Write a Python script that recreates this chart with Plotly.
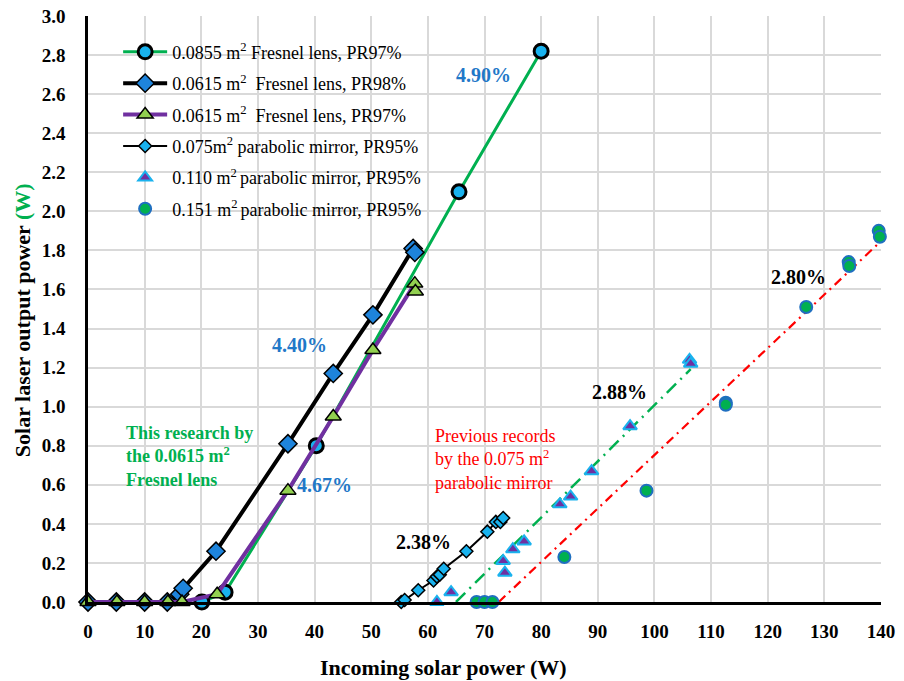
import numpy as np
import plotly.graph_objects as go

# ---------------- data ----------------
# 0.0855 m2 Fresnel lens, PR97%
fr0855_x = [20.1, 24.2, 40.3, 65.5, 80.0]
fr0855_y = [0.00, 0.05, 0.80, 2.10, 2.82]

# 0.0615 m2 Fresnel lens, PR98%
fr98_x = [0.0, 5.0, 10.0, 14.0, 16.2, 16.8, 22.6, 35.3, 43.3, 50.3, 57.4, 57.7]
fr98_y = [0.00, 0.00, 0.00, 0.00, 0.04, 0.07, 0.26, 0.81, 1.17, 1.47, 1.81, 1.79]

# 0.0615 m2 Fresnel lens, PR97%
fr97_x = [0.0, 5.1, 10.0, 14.1, 16.6, 22.8, 35.3, 43.3, 50.3, 57.7, 57.8]
fr97_y = [0.00, 0.00, 0.00, 0.00, 0.00, 0.04, 0.57, 0.95, 1.29, 1.63, 1.59]

# 0.075 m2 parabolic mirror, PR95%
pm075_x = [55.3, 55.9, 58.3, 61.0, 61.6, 62.1, 62.8, 66.8, 70.5, 72.0, 72.8, 73.3]
pm075_y = [0.00, 0.01, 0.06, 0.11, 0.13, 0.14, 0.17, 0.26, 0.36, 0.41, 0.41, 0.43]

# 0.110 m2 parabolic mirror, PR95%
pm110_x = [61.6, 64.1, 73.3, 73.6, 75.0, 77.0, 83.3, 85.2, 88.9, 95.7, 106.2, 106.4]
pm110_y = [0.00, 0.05, 0.21, 0.15, 0.27, 0.31, 0.50, 0.54, 0.67, 0.90, 1.24, 1.22]

# 0.151 m2 parabolic mirror, PR95%
pm151_x = [68.6, 70.0, 71.4, 84.1, 98.6, 112.6, 112.6, 126.8, 134.3, 134.4, 139.6, 139.8]
pm151_y = [0.00, 0.00, 0.00, 0.23, 0.57, 1.02, 1.01, 1.51, 1.74, 1.72, 1.90, 1.87]

x_ticks = list(range(0, 141, 10))
y_ticks = [round(0.2 * i, 1) for i in range(16)]

legend_names = [
    "0.0855 m<sup>2</sup> Fresnel lens, PR97%",
    "0.0615 m<sup>2</sup>&nbsp; Fresnel lens, PR98%",
    "0.0615 m<sup>2</sup>&nbsp; Fresnel lens, PR97%",
    "0.075m<sup>2</sup> parabolic mirror, PR95%",
    "0.110 m<sup>2 </sup>parabolic mirror, PR95%",
    "0.151 m<sup>2 </sup>parabolic mirror, PR95%",
]

SERIF = "Liberation Serif, Times New Roman, serif"
LIGHTBLUE = "#19b2ee"
BLUE = "#1e84dc"

fig = go.Figure()


def trend(xs, ys):
    m, b = np.polyfit(np.array(xs), np.array(ys), 1)
    x0 = max(min(xs), -b / m)
    x1 = max(xs)
    return [x0, x1], [m * x0 + b, m * x1 + b]


# trend lines (behind markers)
tx, ty = trend(pm110_x, pm110_y)
fig.add_trace(go.Scatter(x=tx, y=ty, mode="lines", showlegend=False, hoverinfo="skip",
                         line=dict(color="#00b050", width=2.5, dash="13px,6px,2px,6px")))
tx, ty = trend(pm151_x, pm151_y)
fig.add_trace(go.Scatter(x=tx, y=ty, mode="lines", showlegend=False, hoverinfo="skip",
                         line=dict(color="#ff0000", width=2.2, dash="9px,5px,2px,5px")))

fig.add_trace(go.Scatter(
    x=fr0855_x, y=fr0855_y, mode="lines+markers", name=legend_names[0], legendgroup="a",
    line=dict(color="#00b050", width=3),
    marker=dict(symbol="circle", size=14, color=LIGHTBLUE, line=dict(color="black", width=3)),
    cliponaxis=False))
fig.add_trace(go.Scatter(
    x=fr98_x, y=fr98_y, mode="lines+markers", name=legend_names[1], legendgroup="b",
    line=dict(color="black", width=4),
    marker=dict(symbol="diamond", size=14, color=BLUE, line=dict(color="black", width=1.5)),
    cliponaxis=False))
fig.add_trace(go.Scatter(
    x=fr97_x, y=fr97_y, mode="lines+markers", name=legend_names[2], legendgroup="c",
    line=dict(color="#7030a0", width=4),
    marker=dict(symbol="triangle-up", size=14, color="#92d050", line=dict(color="black", width=1.5)),
    cliponaxis=False))
fig.add_trace(go.Scatter(
    x=pm075_x, y=pm075_y, mode="lines+markers", name=legend_names[3], legendgroup="d",
    line=dict(color="black", width=2),
    marker=dict(symbol="diamond", size=10, color=LIGHTBLUE, line=dict(color="black", width=1.5)),
    cliponaxis=False))
fig.add_trace(go.Scatter(
    x=pm110_x, y=pm110_y, mode="markers", name=legend_names[4], legendgroup="e",
    marker=dict(symbol="triangle-up", size=12, color="#7030a0", line=dict(color=LIGHTBLUE, width=2)),
    cliponaxis=False))
fig.add_trace(go.Scatter(
    x=pm151_x, y=pm151_y, mode="markers", name=legend_names[5], legendgroup="f",
    marker=dict(symbol="circle", size=12, color="#00b050", line=dict(color="#1f6fc0", width=2)),
    cliponaxis=False))

annotations = [
    dict(x=69.9, y=2.70, text="<b>4.90%</b>", font=dict(color="#1f78c8", size=20)),
    dict(x=37.4, y=1.316, text="<b>4.40%</b>", font=dict(color="#1f78c8", size=20)),
    dict(x=41.8, y=0.60, text="<b>4.67%</b>", font=dict(color="#1f78c8", size=20)),
    dict(x=59.3, y=0.307, text="<b>2.38%</b>", font=dict(color="black", size=20)),
    dict(x=93.9, y=1.075, text="<b>2.88%</b>", font=dict(color="black", size=20)),
    dict(x=125.5, y=1.664, text="<b>2.80%</b>", font=dict(color="black", size=20)),
    dict(x=6.4, y=0.747, xanchor="left", align="left",
         text="<b>This research by<br>the 0.0615 m<sup>2</sup><br>Fresnel lens</b>",
         font=dict(color="#00b050", size=18)),
    dict(x=60.9, y=0.727, xanchor="left", align="left",
         text="Previous records<br>by the 0.075 m<sup>2</sup><br>parabolic mirror",
         font=dict(color="#ff0000", size=18)),
]
for a in annotations:
    a.setdefault("xanchor", "center")
    a.update(xref="x", yref="y", yanchor="middle", showarrow=False)
    a["font"]["family"] = SERIF

annotations.append(dict(
    xref="paper", yref="paper", x=-0.0832, y=0.481, textangle=-90, showarrow=False,
    xanchor="center", yanchor="middle",
    text="<b>Solar laser output power <span style='color:#00b050'>(W)</span></b>",
    font=dict(family=SERIF, size=22, color="black")))
annotations.append(dict(
    xref="paper", yref="paper", x=0.4477, y=-0.1126, showarrow=False,
    xanchor="center", yanchor="middle",
    text="<b>Incoming solar power (W)</b>",
    font=dict(family=SERIF, size=22, color="black")))

fig.update_layout(
    width=904, height=681,
    margin=dict(l=88, r=23, t=16, b=79, autoexpand=False),
    paper_bgcolor="white", plot_bgcolor="white",
    font=dict(family=SERIF, size=18, color="black"),
    showlegend=True,
    legend=dict(x=0.038, y=0.97, xanchor="left", yanchor="top", itemwidth=44,
                bgcolor="rgba(0,0,0,0)", traceorder="grouped", tracegroupgap=5,
                font=dict(family=SERIF, size=18, color="black")),
    annotations=annotations,
    xaxis=dict(range=[0, 140], tickvals=x_ticks, ticktext=[f"<b>{v}</b>" for v in x_ticks],
               showgrid=True, gridcolor="#d9d9d9", gridwidth=1.5,
               showline=True, linecolor="black", linewidth=3,
               ticks="outside", ticklen=10, tickcolor="rgba(0,0,0,0)",
               tickfont=dict(family=SERIF, size=19, color="black"), zeroline=False),
    yaxis=dict(range=[0, 3.0], tickvals=y_ticks, ticktext=[f"<b>{v:.1f}</b>" for v in y_ticks],
               showgrid=True, gridcolor="#d9d9d9", gridwidth=1.5,
               showline=True, linecolor="black", linewidth=2.5,
               ticks="outside", ticklen=16, tickcolor="rgba(0,0,0,0)",
               tickfont=dict(family=SERIF, size=19, color="black"), zeroline=False),
)

fig.write_html(
    "out.html",
    config={"displayModeBar": False},
    post_script="document.body.style.margin='0';document.body.style.overflow='hidden';",
)
